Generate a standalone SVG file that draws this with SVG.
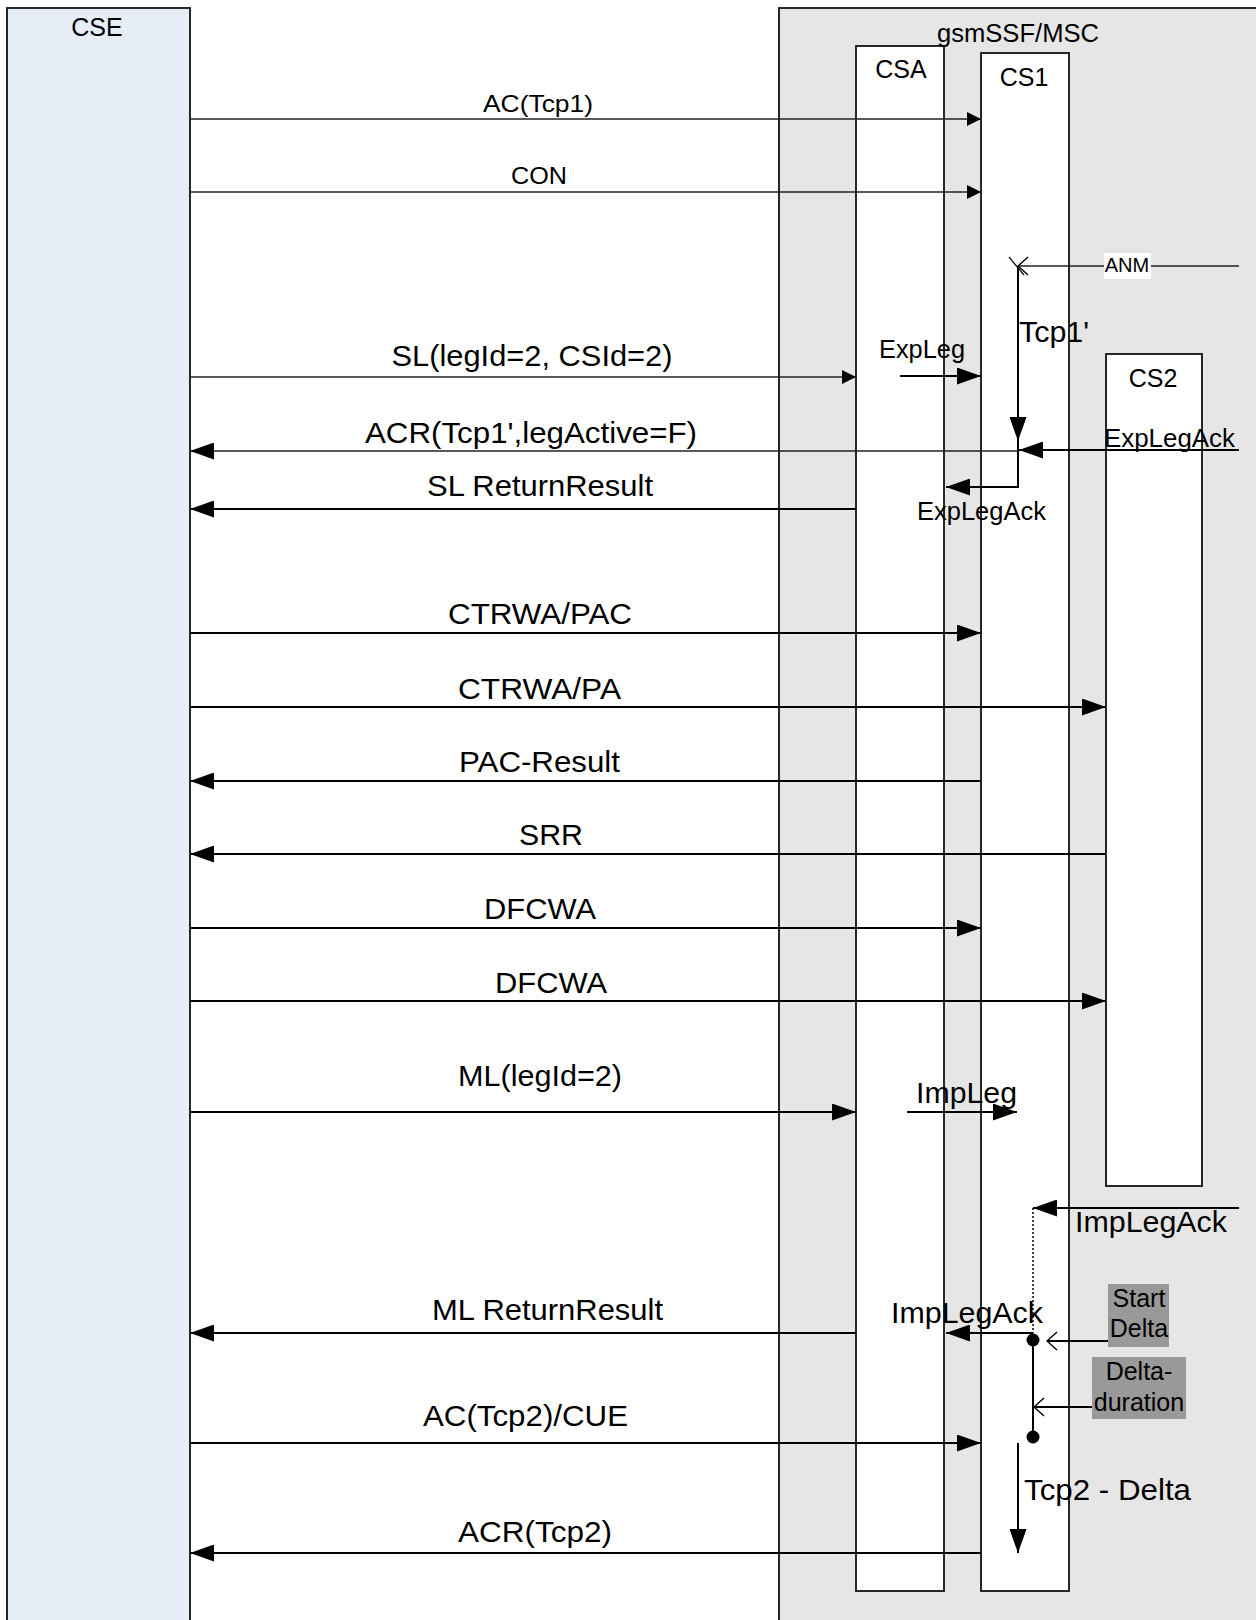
<svg xmlns="http://www.w3.org/2000/svg" width="1256" height="1620" viewBox="0 0 1256 1620">
<style>
text{font-family:"Liberation Sans",Arial,sans-serif;fill:#000}
.box{stroke:#111;stroke-width:1.8}
.lbl{font-size:25px;text-anchor:middle}
.msg{font-size:29px;text-anchor:middle}
.sm{font-size:24px;text-anchor:middle}
.ln{stroke:#000;stroke-width:2;fill:none}
.thin{stroke:#222;stroke-width:1.4;fill:none}
.grey{fill:#999999}
</style>
<defs>
<marker id="ah" markerUnits="userSpaceOnUse" markerWidth="24" markerHeight="17" refX="24" refY="8.5" orient="auto"><path d="M0,0 L24,8.5 L0,17 z" fill="#000"/></marker>
<marker id="as" markerUnits="userSpaceOnUse" markerWidth="14" markerHeight="14" refX="14" refY="7" orient="auto"><path d="M0,0 L14,7 L0,14 z" fill="#000"/></marker>
<marker id="ao" markerUnits="userSpaceOnUse" markerWidth="12" markerHeight="20" refX="11" refY="10" orient="auto"><path d="M1,1 L11,10 L1,19" fill="none" stroke="#000" stroke-width="1.4"/></marker>
</defs>

<g id="CSE">
<rect x="7" y="8" width="183" height="1625" fill="#e6edf7" class="box"/>
<text x="97" y="36" class="lbl">CSE</text>
</g>
<g id="gsmSSF">
<rect x="779" y="8" width="500" height="1625" fill="#e6e6e6" class="box"/>
</g>
<g id="CSA">
<rect x="856" y="46" width="88" height="1545" fill="#ffffff" class="box"/>
<text x="901" y="78" class="lbl">CSA</text>
</g>
<g id="CS1">
<rect x="981" y="53" width="88" height="1538" fill="#ffffff" class="box"/>
<text x="1024" y="86" class="lbl">CS1</text>
</g>
<g id="CS2">
<rect x="1106" y="354" width="96" height="832" fill="#ffffff" class="box"/>
<text x="1153" y="387" class="lbl">CS2</text>
</g>
<text x="1018" y="42" class="lbl" textLength="162" lengthAdjust="spacingAndGlyphs">gsmSSF/MSC</text>

<g id="StartDelta">
<rect x="1108" y="1284" width="61" height="63" class="grey"/>
<text x="1139" y="1307" class="lbl">Start</text>
<text x="1139" y="1337" class="lbl">Delta</text>
</g>
<g id="DeltaDuration">
<rect x="1092" y="1357" width="94" height="62" class="grey"/>
<text x="1139" y="1380" class="lbl">Delta-</text>
<text x="1139" y="1411" class="lbl">duration</text>
</g>

<g id="connectors">
<line x1="190" y1="119" x2="981" y2="119" class="thin" marker-end="url(#as)"/>
<text x="538" y="112" class="sm" textLength="110" lengthAdjust="spacingAndGlyphs">AC(Tcp1)</text>
<line x1="190" y1="192" x2="981" y2="192" class="thin" marker-end="url(#as)"/>
<text x="539" y="184" class="sm" textLength="56" lengthAdjust="spacingAndGlyphs">CON</text>

<line x1="1239" y1="266" x2="1018" y2="266" class="thin" marker-end="url(#ao)"/>
<line x1="1009" y1="257" x2="1024" y2="275" class="thin"/>
<rect x="1104" y="253" width="47" height="26" fill="#ffffff"/>
<text x="1127" y="272" style="font-size:20px;text-anchor:middle">ANM</text>

<line x1="1018" y1="266" x2="1018" y2="441" class="ln" marker-end="url(#ah)"/>
<path d="M1018,441 L1018,487 L946,487" class="ln" marker-end="url(#ah)"/>
<text x="1019" y="342" style="font-size:29px" textLength="70" lengthAdjust="spacingAndGlyphs">Tcp1'</text>

<line x1="190" y1="377" x2="856" y2="377" class="thin" marker-end="url(#as)"/>
<text x="532" y="366" class="msg" textLength="281" lengthAdjust="spacingAndGlyphs">SL(legId=2, CSId=2)</text>
<line x1="900" y1="376" x2="981" y2="376" class="ln" marker-end="url(#ah)"/>
<text x="879" y="358" style="font-size:25px" textLength="86" lengthAdjust="spacingAndGlyphs">ExpLeg</text>

<line x1="1239" y1="450" x2="1019" y2="450" class="ln" marker-end="url(#ah)"/>
<text x="1104" y="447" style="font-size:25px" textLength="131" lengthAdjust="spacingAndGlyphs">ExpLegAck</text>
<line x1="1018" y1="451" x2="190" y2="451" class="thin" marker-end="url(#ah)"/>
<text x="531" y="443" class="msg" textLength="332" lengthAdjust="spacingAndGlyphs">ACR(Tcp1',legActive=F)</text>
<text x="917" y="520" style="font-size:25px" textLength="129" lengthAdjust="spacingAndGlyphs">ExpLegAck</text>

<line x1="856" y1="509" x2="190" y2="509" class="ln" marker-end="url(#ah)"/>
<text x="540" y="496" class="msg" textLength="226" lengthAdjust="spacingAndGlyphs">SL ReturnResult</text>

<line x1="190" y1="633" x2="981" y2="633" class="ln" marker-end="url(#ah)"/>
<text x="540" y="624" class="msg" textLength="184" lengthAdjust="spacingAndGlyphs">CTRWA/PAC</text>
<line x1="190" y1="707" x2="1106" y2="707" class="ln" marker-end="url(#ah)"/>
<text x="539.5" y="699" class="msg" textLength="163" lengthAdjust="spacingAndGlyphs">CTRWA/PA</text>
<line x1="981" y1="781" x2="190" y2="781" class="ln" marker-end="url(#ah)"/>
<text x="539.5" y="772" class="msg" textLength="161" lengthAdjust="spacingAndGlyphs">PAC-Result</text>
<line x1="1106" y1="854" x2="190" y2="854" class="ln" marker-end="url(#ah)"/>
<text x="551" y="845" class="msg" textLength="64" lengthAdjust="spacingAndGlyphs">SRR</text>
<line x1="190" y1="928" x2="981" y2="928" class="ln" marker-end="url(#ah)"/>
<text x="540" y="919" class="msg" textLength="112" lengthAdjust="spacingAndGlyphs">DFCWA</text>
<line x1="190" y1="1001" x2="1106" y2="1001" class="ln" marker-end="url(#ah)"/>
<text x="551" y="993" class="msg" textLength="112" lengthAdjust="spacingAndGlyphs">DFCWA</text>

<line x1="190" y1="1112" x2="856" y2="1112" class="ln" marker-end="url(#ah)"/>
<text x="540" y="1086" class="msg" textLength="164" lengthAdjust="spacingAndGlyphs">ML(legId=2)</text>
<line x1="907" y1="1112" x2="1017" y2="1112" class="ln" marker-end="url(#ah)"/>
<text x="916" y="1103" style="font-size:30px" textLength="101" lengthAdjust="spacingAndGlyphs">ImpLeg</text>

<line x1="1239" y1="1208" x2="1033" y2="1208" class="ln" marker-end="url(#ah)"/>
<text x="1075" y="1232" style="font-size:30px" textLength="152" lengthAdjust="spacingAndGlyphs">ImpLegAck</text>
<line x1="1033" y1="1208" x2="1033" y2="1333" stroke="#000" stroke-width="1.5" stroke-dasharray="2,2"/>

<line x1="856" y1="1333" x2="190" y2="1333" class="ln" marker-end="url(#ah)"/>
<text x="547.5" y="1320" class="msg" textLength="231" lengthAdjust="spacingAndGlyphs">ML ReturnResult</text>
<line x1="1033" y1="1333" x2="946" y2="1333" class="ln" marker-end="url(#ah)"/>
<text x="891" y="1323" style="font-size:30px" textLength="152" lengthAdjust="spacingAndGlyphs">ImpLegAck</text>

<line x1="1033" y1="1340" x2="1033" y2="1437" class="ln"/>
<circle cx="1033" cy="1340" r="6.5" fill="#000"/>
<circle cx="1033" cy="1437" r="6.5" fill="#000"/>
<line x1="1108" y1="1341" x2="1047" y2="1341" class="ln" marker-end="url(#ao)"/>
<line x1="1092" y1="1407" x2="1034" y2="1407" class="ln" marker-end="url(#ao)"/>

<line x1="190" y1="1443" x2="981" y2="1443" class="ln" marker-end="url(#ah)"/>
<text x="525.5" y="1426" class="msg" textLength="205" lengthAdjust="spacingAndGlyphs">AC(Tcp2)/CUE</text>
<line x1="1018" y1="1443" x2="1018" y2="1553" class="ln" marker-end="url(#ah)"/>
<text x="1024" y="1500" style="font-size:30px" textLength="167" lengthAdjust="spacingAndGlyphs">Tcp2 - Delta</text>
<line x1="981" y1="1553" x2="190" y2="1553" class="ln" marker-end="url(#ah)"/>
<text x="535" y="1542" class="msg" textLength="154" lengthAdjust="spacingAndGlyphs">ACR(Tcp2)</text>
</g>
</svg>
